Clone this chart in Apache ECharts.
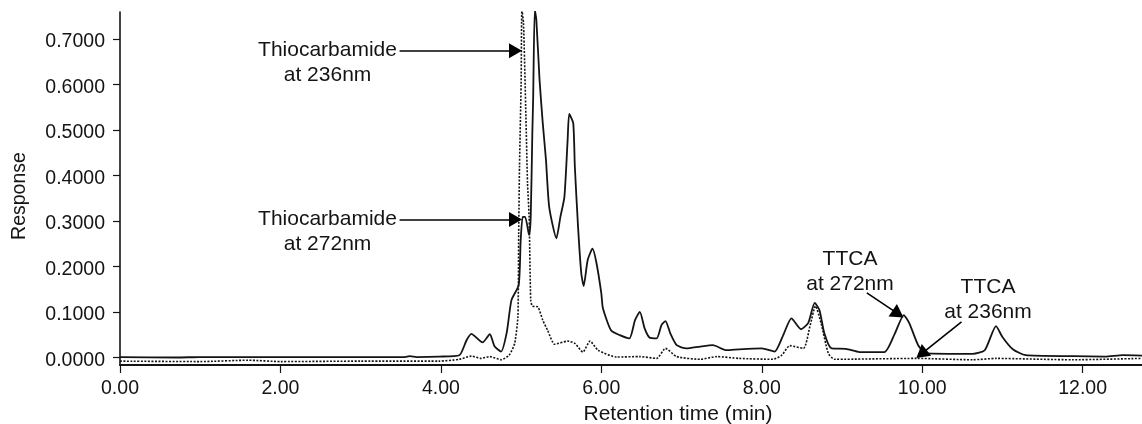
<!DOCTYPE html>
<html>
<head>
<meta charset="utf-8">
<script src="https://cdn.jsdelivr.net/npm/echarts@6/dist/echarts.min.js"></script>
<style>
html,body{margin:0;padding:0;background:#fff;}
#main{width:1142px;height:424px;}
</style>
</head>
<body>
<div id="main"></div>
<script>
var yTicks = [0, 0.1, 0.2, 0.3, 0.4, 0.5, 0.6, 0.7];
var xTicks = [0, 2, 4, 6, 8, 10, 12];

// solid trace (272nm): [time, response]
var trace272 = [
	[0,0.001],[0.7,0],[1.0,0.001],[2.0,0.001],[3.0,0.001],[3.55,0.001],[3.61,0.003],[3.7,0.001],[3.98,0.002],
	[4.23,0.005],[4.32,0.038],[4.38,0.052],[4.52,0.033],[4.61,0.051],[4.67,0.024],[4.75,0.013],[4.82,0.054],
	[4.88,0.126],[4.97,0.159],[4.995,0.258],[5.02,0.309],[5.05,0.309],[5.10,0.269],[5.12,0.309],[5.14,0.493],
	[5.15,0.566],[5.17,0.764],[5.19,0.742],[5.23,0.61],[5.27,0.515],[5.31,0.434],[5.35,0.331],[5.44,0.262],
	[5.49,0.309],[5.54,0.353],[5.58,0.478],[5.60,0.535],[5.65,0.515],[5.67,0.419],[5.71,0.287],[5.75,0.185],
	[5.78,0.157],[5.83,0.214],[5.89,0.239],[5.94,0.207],[6.00,0.141],[6.02,0.108],[6.12,0.06],[6.23,0.049],
	[6.35,0.042],[6.42,0.082],[6.48,0.1],[6.54,0.064],[6.60,0.044],[6.69,0.042],[6.75,0.071],[6.80,0.08],
	[6.86,0.053],[6.94,0.027],[7.06,0.02],[7.23,0.024],[7.39,0.027],[7.56,0.016],[7.72,0.018],[8.0,0.02],
	[8.16,0.013],[8.26,0.046],[8.37,0.086],[8.49,0.062],[8.58,0.076],[8.66,0.12],[8.72,0.104],[8.78,0.053],
	[8.87,0.02],[9.05,0.019],[9.22,0.012],[9.53,0.012],[9.66,0.053],[9.77,0.093],[9.84,0.075],[9.95,0.027],
	[10.05,0.009],[10.63,0.008],[10.78,0.016],[10.92,0.069],[11.0,0.045],[11.13,0.018],[11.29,0.005],
	[11.88,0.003],[12.28,0.002],[12.5,0.005],[12.74,0.004]
];

// dotted trace (236nm): [time, response]
var trace236 = [
	[0,-0.008],[1.0,-0.009],[1.6,-0.006],[2.0,-0.009],[3.0,-0.008],[3.98,-0.008],[4.23,-0.004],[4.38,0.003],
	[4.50,-0.002],[4.61,0.002],[4.75,-0.005],[4.85,0.005],[4.92,0.031],[4.96,0.09],[4.97,0.273],[4.98,0.419],
	[5.0,0.6],[5.01,0.764],[5.03,0.734],[5.06,0.529],[5.08,0.383],[5.10,0.309],[5.12,0.126],[5.14,0.113],
	[5.21,0.111],[5.27,0.082],[5.33,0.06],[5.42,0.029],[5.58,0.036],[5.67,0.031],[5.77,0.012],[5.86,0.036],
	[5.96,0.016],[6.19,0.001],[6.48,0.002],[6.69,-0.002],[6.80,0.02],[6.94,0.002],[7.23,-0.004],[7.44,0.002],
	[7.72,-0.002],[8.14,-0.004],[8.25,0.005],[8.35,0.026],[8.52,0.02],[8.6,0.068],[8.67,0.113],[8.74,0.075],
	[8.83,0.009],[8.91,-0.004],[9.93,-0.002],[10.63,-0.005],[10.92,-0.002],[11.88,-0.005],[12.74,-0.002]
];

// annotations in axis units
var noteLabels = [
	["Thiocarbamide\nat 236nm", 2.587, 0.6486],
	["Thiocarbamide\nat 272nm", 2.587, 0.276],
	["TTCA\nat 272nm", 9.10, 0.189],
	["TTCA\nat 236nm", 10.82, 0.128]
];
var noteArrows = [
	[[3.485, 0.6736], [4.93, 0.6736]],
	[[3.485, 0.303], [4.93, 0.303]],
	[[9.31, 0.142], [9.70, 0.096]],
	[[10.49, 0.078], [9.99, 0.0077]]
];

var ink = '#141414';
var fontName = '"Liberation Sans", Arial, sans-serif';

var option = {
	animation: false,
	backgroundColor: '#fff',
	grid: {left: 120, right: 0, top: 12, bottom: 59, outerBoundsMode: 'none'},
	xAxis: {
		type: 'value',
		min: 0,
		max: 12.74,
		name: 'Retention time (min)',
		nameLocation: 'middle',
		nameGap: 38,
		nameTextStyle: {color: ink, fontSize: 21, fontFamily: fontName, padding: [0, 0, 0, 94]},
		axisLine: {onZero: false, lineStyle: {color: ink, width: 2}},
		axisTick: {customValues: xTicks, length: 8, lineStyle: {color: ink, width: 1.2}},
		axisLabel: {customValues: xTicks, color: ink, fontSize: 19.5, fontFamily: fontName, margin: 14,
			formatter: function(v){ return v.toFixed(2); }},
		splitLine: {show: false}
	},
	yAxis: {
		type: 'value',
		min: -0.0165,
		max: 0.759,
		name: 'Response',
		nameLocation: 'middle',
		nameGap: 90,
		nameTextStyle: {color: ink, fontSize: 19.5, fontFamily: fontName, padding: [0, 15, 0, 0]},
		axisLine: {onZero: false, lineStyle: {color: ink, width: 1.6}},
		axisTick: {customValues: yTicks, length: 7, lineStyle: {color: ink, width: 1.2}},
		axisLabel: {customValues: yTicks, color: ink, fontSize: 19.5, fontFamily: fontName, margin: 15,
			formatter: function(v){ return '{v|' + v.toFixed(4) + '}'; },
			rich: {v: {color: ink, fontSize: 19.5, fontFamily: fontName, padding: [6, 0, 0, 0]}}},
		splitLine: {show: false}
	},
	series: [
		{
			name: '236nm',
			type: 'line',
			data: trace236,
			symbol: 'none',
			smooth: 0.2,
			lineStyle: {color: ink, width: 1.6, type: [2, 1.5]}
		},
		{
			name: '272nm',
			type: 'line',
			data: trace272,
			symbol: 'none',
			smooth: 0.2,
			lineStyle: {color: ink, width: 1.8},
			markLine: {
				silent: true,
				symbol: ['none', 'triangle'],
				symbolSize: [15, 13],
				precision: 4,
				label: {show: false},
				lineStyle: {color: '#000', width: 1.6, type: 'solid'},
				data: noteArrows.map(function(a){
					return [{coord: a[0]}, {coord: a[1]}];
				})
			},
			markPoint: {
				silent: true,
				symbol: 'circle',
				symbolSize: 0,
				data: noteLabels.map(function(n){
					return {
						coord: [n[1], n[2]],
						label: {show: true, position: 'inside', formatter: n[0], color: ink,
							fontSize: 21, lineHeight: 25, fontFamily: fontName, align: 'center'}
					};
				})
			}
		}
	]
};
var myChart = echarts.init(document.getElementById('main'));
myChart.setOption(option, true);
</script>
</body>
</html>
